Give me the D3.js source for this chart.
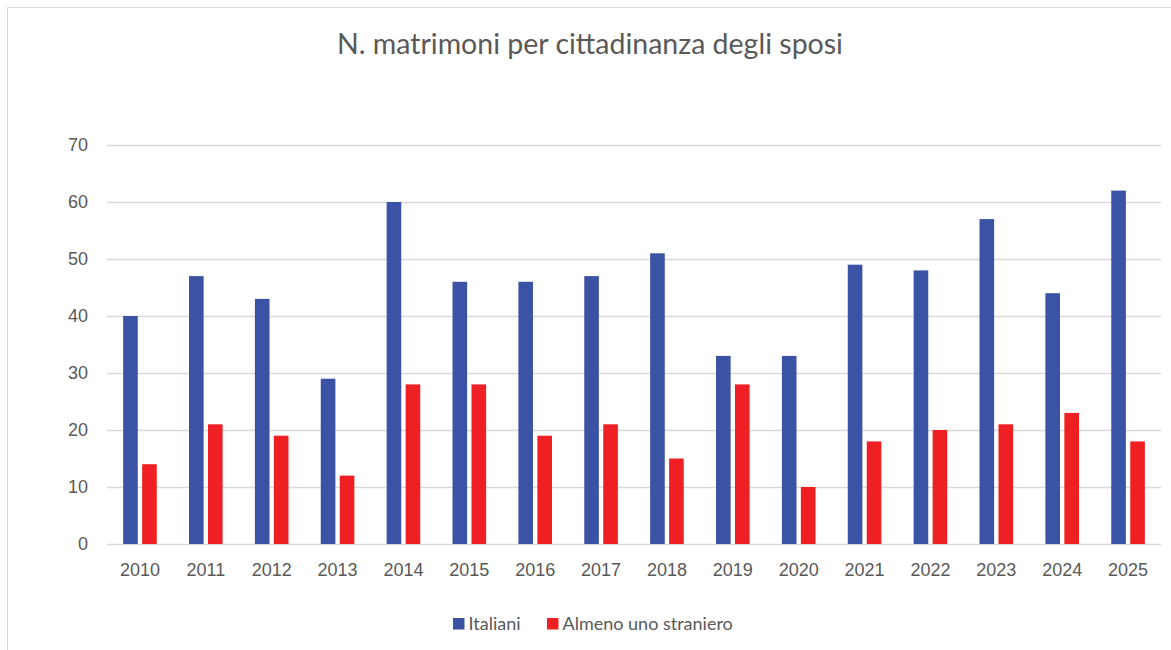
<!DOCTYPE html>
<html>
<head>
<meta charset="utf-8">
<script src="https://cdn.jsdelivr.net/npm/d3@7"></script>
<style>
  html, body { margin: 0; padding: 0; background: #fff; }
  svg { display: block; font-family: Lato, "Liberation Sans", sans-serif; }
</style>
</head>
<body>
<div id="chart"></div>
<script>
var years = ["2010","2011","2012","2013","2014","2015","2016","2017","2018","2019","2020","2021","2022","2023","2024","2025"];
var italiani = [40,47,43,29,60,46,46,47,51,33,33,49,48,57,44,62];
var stranieri = [14,21,19,12,28,28,19,21,15,28,10,18,20,21,23,18];
var seriesNames = ["Italiani", "Almeno uno straniero"];
var seriesColors = ["#3A53A4", "#EE2024"];
var yTicks = [0,10,20,30,40,50,60,70];

var W = 1171, H = 650;
var plotLeft = 107, plotRight = 1161, plotTop = 145, plotBottom = 544;

var svg = d3.select("#chart").append("svg")
    .attr("width", W).attr("height", H);

// bordo area grafico
svg.append("rect")
    .attr("x", 7.5).attr("y", 7.5)
    .attr("width", W - 4).attr("height", H - 4)
    .attr("fill", "none").attr("stroke", "#d9d9d9");

var x0 = d3.scaleBand().domain(years).range([plotLeft, plotRight]).padding(0);
var x1 = d3.scaleBand().domain(seriesNames).range([-16.8, 16.8]).paddingInner(0.23);
var y = d3.scaleLinear().domain([0, 70]).range([plotBottom, plotTop]);

// griglia
svg.append("g").selectAll("line").data(yTicks).join("line")
    .attr("x1", plotLeft).attr("x2", plotRight)
    .attr("y1", function(d){ return Math.round(y(d)) + 0.5; })
    .attr("y2", function(d){ return Math.round(y(d)) + 0.5; })
    .attr("stroke", "#d9d9d9").attr("stroke-width", 1.3);

// asse y
var yAxis = svg.append("g")
    .attr("transform", "translate(" + plotLeft + ",0)")
    .call(d3.axisLeft(y).tickValues(yTicks).tickSize(0).tickPadding(19));
yAxis.select(".domain").remove();
yAxis.selectAll("text").attr("fill", "#595959").style("font-size", "18px");

// asse x
var xAxis = svg.append("g")
    .attr("transform", "translate(0," + plotBottom + ")")
    .call(d3.axisBottom(x0).tickSize(0).tickPadding(19));
xAxis.select(".domain").remove();
xAxis.selectAll("text").attr("fill", "#595959").style("font-size", "18px");

// barre
var rows = years.map(function(yr, i){
    return { year: yr, values: [italiani[i], stranieri[i]] };
});

var groups = svg.append("g").selectAll("g").data(rows).join("g")
    .attr("transform", function(d){ return "translate(" + (x0(d.year) + x0.bandwidth() / 2) + ",0)"; });

groups.selectAll("rect")
    .data(function(d){ return d.values.map(function(v, j){ return { name: seriesNames[j], v: v, c: seriesColors[j] }; }); })
    .join("rect")
    .attr("x", function(d){ return x1(d.name); })
    .attr("width", x1.bandwidth())
    .attr("y", function(d){ return y(d.v); })
    .attr("height", function(d){ return y(0) - y(d.v); })
    .attr("fill", function(d){ return d.c; });

// titolo
svg.append("text")
    .attr("x", 590).attr("y", 54)
    .attr("text-anchor", "middle")
    .attr("fill", "#595959")
    .style("font-size", "28.5px")
    .text("N. matrimoni per cittadinanza degli sposi");

// legenda
var legendX = [453, 547];
var legend = svg.append("g").selectAll("g").data(seriesNames).join("g")
    .attr("transform", function(d, i){ return "translate(" + legendX[i] + ",618)"; });
legend.append("rect")
    .attr("width", 11.5).attr("height", 11.5)
    .attr("fill", function(d, i){ return seriesColors[i]; });
legend.append("text")
    .attr("x", 15.5).attr("y", 12)
    .attr("fill", "#595959")
    .style("font-size", "18px")
    .text(function(d){ return d; });
</script>
</body>
</html>
